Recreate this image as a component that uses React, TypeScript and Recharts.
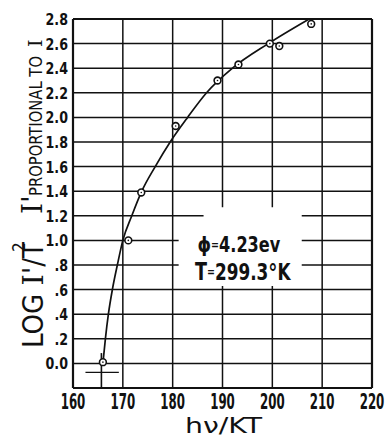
import React from 'react';
import {
  ComposedChart,
  Line,
  Scatter,
  XAxis,
  YAxis,
  CartesianGrid,
  ReferenceLine,
  ReferenceArea,
} from 'recharts';

// ---- data ----
const xTicks = [160, 170, 180, 190, 200, 210, 220];
const xTickLabels = ['160', '170', '180', '190', '200', '210', '220'];
const yTicks = [0, 0.2, 0.4, 0.6, 0.8, 1.0, 1.2, 1.4, 1.6, 1.8, 2.0, 2.2, 2.4, 2.6, 2.8];
const yTickLabels = ['0.0', '.2', '.4', '.6', '.8', '1.0', '1.2', '1.4', '1.6', '1.8', '2.0', '2.2', '2.4', '2.6', '2.8'];

// measured points (h nu / kT, log I'/T^2)
const pointX = [166.0, 171.1, 173.7, 180.6, 189.0, 193.2, 199.5, 201.4, 207.8];
const pointY = [0.01, 1.0, 1.39, 1.93, 2.3, 2.43, 2.6, 2.58, 2.76];

// theoretical Fowler curve, as drawn
const curveX = [166.0, 166.5, 167.1, 167.9, 168.9, 170.0, 171.8, 173.8, 176.5, 179.5, 183.0, 186.8, 192.0, 199.2, 207.4];
const curveY = [0.0, 0.2, 0.4, 0.6, 0.8, 1.0, 1.2, 1.4, 1.6, 1.8, 2.0, 2.2, 2.4, 2.6, 2.8];

const points = pointX.map((x, i) => ({ x, y: pointY[i] }));
const curve = curveX.map((x, i) => ({ x, y: curveY[i] }));

const INK = '#111';
const BOLD_FONT = "'DejaVu Sans Condensed', sans-serif";

const XTick = (props: any) => {
  const { x, payload } = props;
  const i = xTicks.findIndex((t) => Math.abs(t - payload.value) < 1e-6);
  return (
    <g transform={`translate(${x},409) scale(0.64,1)`}>
      <text x={0} y={0} textAnchor="middle" fontFamily={BOLD_FONT} fontWeight="bold" fontSize={20.5} fill={INK}>
        {xTickLabels[i]}
      </text>
    </g>
  );
};

const YTick = (props: any) => {
  const { y, payload } = props;
  const i = yTicks.findIndex((t) => Math.abs(t - payload.value) < 1e-6);
  return (
    <g transform={`translate(68,${y + 6}) scale(0.88,1)`}>
      <text x={0} y={0} textAnchor="end" fontFamily={BOLD_FONT} fontWeight="bold" fontSize={16} fill={INK}>
        {yTickLabels[i]}
      </text>
    </g>
  );
};

const Dot = (props: any) => {
  const { cx, cy } = props;
  if (cx == null || cy == null) return null;
  return (
    <g>
      <circle cx={cx} cy={cy} r={3.4} fill="#fff" stroke={INK} strokeWidth={1.6} />
      <circle cx={cx} cy={cy} r={0.8} fill={INK} />
    </g>
  );
};

const Labels = () => (
  <svg
    width={390}
    height={443}
    style={{ position: 'absolute', left: 0, top: 0, pointerEvents: 'none' }}
  >
    <g fill={INK}>
      {/* y axis title (rotated) */}
      <text
        transform="translate(43,348) rotate(-90)"
        fontFamily="'DejaVu Sans Condensed', sans-serif"
        fontSize={28}
        textLength={106}
        lengthAdjust="spacingAndGlyphs"
      >
        LOG <tspan fontFamily="'DejaVu Serif', serif">I</tspan>'/T
      </text>
      <text transform="translate(25,252) rotate(-90)" fontFamily="'DejaVu Sans Condensed', sans-serif" fontSize={17}>
        2
      </text>
      <text transform="translate(42,214) rotate(-90)" fontFamily="'DejaVu Serif', serif" fontSize={28}>
        I'
      </text>
      <text
        transform="translate(42,196) rotate(-90)"
        fontFamily="'DejaVu Sans Condensed', sans-serif"
        fontSize={17}
        textLength={140}
        lengthAdjust="spacingAndGlyphs"
      >
        PROPORTIONAL TO
      </text>
      <text transform="translate(42,47) rotate(-90)" fontFamily="'DejaVu Serif', serif" fontSize={19}>
        I
      </text>

      {/* annotation: two lines in one text */}
      <g transform="translate(195,0) scale(0.815,1)">
        <text fontFamily={BOLD_FONT} fontWeight="bold" fontSize={22}>
          <tspan x={3} y={252} fontFamily="'DejaVu Sans', sans-serif" fontSize={21}>ϕ</tspan>
          <tspan fontSize={13} dy={-3}>=</tspan>
          <tspan dy={3}>4.23ev</tspan>
          <tspan x={0} y={280} fontSize={24}>T</tspan>
          <tspan fontSize={13} dy={-4}>=</tspan>
          <tspan fontSize={23} dy={4}>299.3</tspan>
          <tspan fontSize={25} dy={2}>°</tspan>
          <tspan fontSize={23} dy={-2}>K</tspan>
        </text>
      </g>

      {/* x axis title */}
      <text
        x={223.5}
        y={433}
        textAnchor="middle"
        fontFamily="'DejaVu Sans', sans-serif"
        fontSize={21.5}
        textLength={77}
        lengthAdjust="spacingAndGlyphs"
      >
        hν/KT
      </text>
    </g>
  </svg>
);

export default function App() {
  return (
    <div style={{ position: 'absolute', left: 0, top: 0, width: 390, height: 443, background: '#fff' }}>
      <ComposedChart width={390} height={443} margin={{ top: 19, right: 18, bottom: 0, left: 0 }}>
        <CartesianGrid stroke={INK} strokeWidth={1.5} />
        <XAxis
          type="number"
          dataKey="x"
          domain={[160, 220]}
          ticks={xTicks}
          interval={0}
          tickLine={false}
          axisLine={{ stroke: INK, strokeWidth: 2.2 }}
          height={55}
          tick={<XTick />}
          allowDataOverflow
        />
        <YAxis
          type="number"
          dataKey="y"
          domain={[-0.2, 2.8]}
          ticks={yTicks}
          interval={0}
          tickLine={false}
          axisLine={{ stroke: INK, strokeWidth: 2.2 }}
          width={73}
          tick={<YTick />}
          allowDataOverflow
        />
        <ReferenceLine x={220} stroke={INK} strokeWidth={2.2} />
        <ReferenceLine y={2.8} stroke={INK} strokeWidth={2.2} />
        <ReferenceArea x1={181.2} x2={205.9} y1={0.63} y2={1.13} fill="#fff" fillOpacity={1} stroke="none" />
        <ReferenceArea x1={186.2} x2={205.9} y1={1.12} y2={1.27} fill="#fff" fillOpacity={1} stroke="none" />
        <ReferenceLine
          segment={[
            { x: 165.7, y: 0.084 },
            { x: 165.7, y: -0.2 },
          ]}
          stroke={INK}
          strokeWidth={1.6}
        />
        <ReferenceLine
          segment={[
            { x: 162.5, y: -0.073 },
            { x: 169.2, y: -0.073 },
          ]}
          stroke={INK}
          strokeWidth={1.4}
        />
        <Line
          data={curve}
          dataKey="y"
          type="monotone"
          stroke={INK}
          strokeWidth={1.7}
          dot={false}
          activeDot={false}
          isAnimationActive={false}
        />
        <Scatter data={points} dataKey="y" shape={<Dot />} isAnimationActive={false} />
      </ComposedChart>
      <Labels />
    </div>
  );
}
